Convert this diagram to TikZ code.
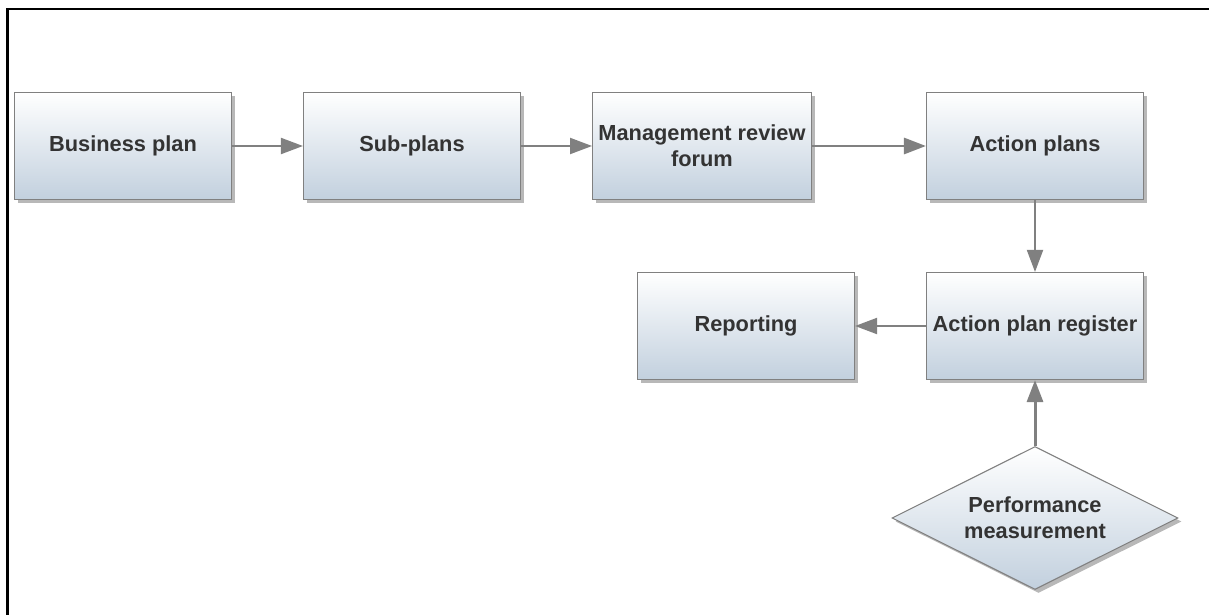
\documentclass[tikz,border=0pt]{standalone}
\usepackage{fontspec}
\setmainfont{Liberation Sans}
\usetikzlibrary{shapes.geometric,arrows.meta,shadows}
\definecolor{boxbottom}{RGB}{194,208,222}
\definecolor{edgegray}{RGB}{128,128,128}
\definecolor{textgray}{RGB}{51,51,51}
\begin{document}
\begin{tikzpicture}
[>={Triangle[length=0.44cm,width=0.32cm]},
box/.style = {draw=edgegray, line width=0.6pt, top color=white, bottom color=boxbottom, minimum width=4.34cm, minimum height=2.14cm, align=center, text=textgray, font=\bfseries\fontsize{12.4}{14.8}\selectfont, drop shadow={shadow xshift=2pt, shadow yshift=-2pt, fill=gray!70, opacity=0.8}},
decision/.style = {box, diamond, aspect=2, minimum width=5.72cm, minimum height=2.86cm, inner sep=0pt},
link/.style = {draw=edgegray, line width=1.1pt, ->},
thicklink/.style = {link, line width=1.7pt},]
\useasboundingbox (0,0) rectangle (24.18,-12.3);
% frame on two sides
\draw[line width=1.7pt] (0.15,-12.3) -- (0.15,-0.18) -- (24.18,-0.18);
\node (BP) at (2.46,-2.92)[box] {Business plan};
\node (SP) at (8.24,-2.92)[box] {Sub-plans};
\node (MR) at (14.04,-2.92)[box] {Management review\\forum};
\node (AP) at (20.70,-2.92)[box] {Action plans};
\node (AR) at (20.70,-6.52)[box] {Action plan register};
\node (RP) at (14.92,-6.52)[box] {Reporting};
\node (PM) at (20.70,-10.36)[decision] {Performance\\measurement};
\draw[link] (BP)--(SP);
\draw[link] (SP)--(MR);
\draw[thicklink] (MR)--(AP);
\draw[link] (AP)--(AR);
\draw[link] (AR)--(RP);
\draw[thicklink] (PM)--(AR);

\end{tikzpicture}
\end{document}
